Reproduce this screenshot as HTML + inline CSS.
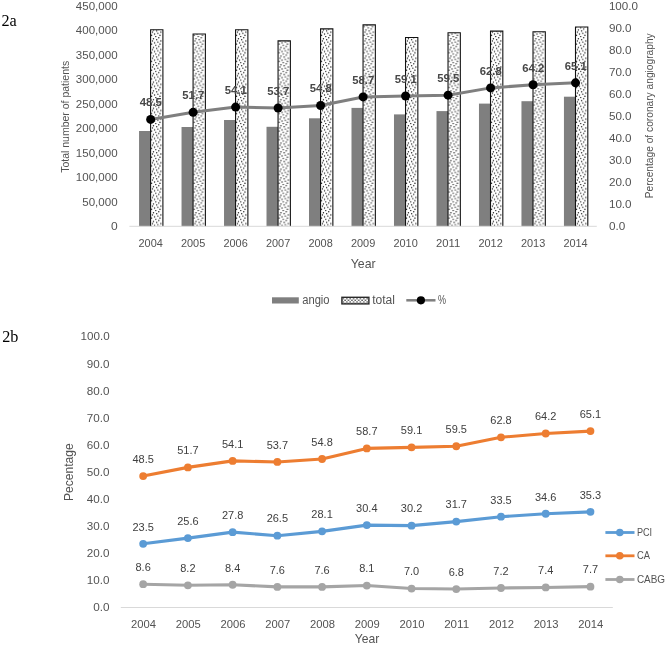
<!DOCTYPE html>
<html><head><meta charset="utf-8"><style>
html,body{margin:0;padding:0;background:#fff;}
body{width:666px;height:645px;overflow:hidden;font-family:"Liberation Sans", sans-serif;}
svg{display:block;will-change:transform;}
</style></head><body>
<svg width="666" height="645" viewBox="0 0 666 645">
<rect width="666" height="645" fill="#fff"/>
<text x="1.50" y="26.00" font-family='"Liberation Serif", serif' font-size="17" font-weight="normal" fill="#000" text-anchor="start" textLength="15.3" lengthAdjust="spacingAndGlyphs">2a</text>
<text x="2.20" y="342.30" font-family='"Liberation Serif", serif' font-size="17" font-weight="normal" fill="#000" text-anchor="start" textLength="16.2" lengthAdjust="spacingAndGlyphs">2b</text>
<text x="117.60" y="230.20" font-family='"Liberation Sans", sans-serif' font-size="11" font-weight="normal" fill="#535353" text-anchor="end" textLength="6.69" lengthAdjust="spacingAndGlyphs">0</text>
<text x="117.60" y="205.71" font-family='"Liberation Sans", sans-serif' font-size="11" font-weight="normal" fill="#535353" text-anchor="end" textLength="35.39" lengthAdjust="spacingAndGlyphs">50,000</text>
<text x="117.60" y="181.22" font-family='"Liberation Sans", sans-serif' font-size="11" font-weight="normal" fill="#535353" text-anchor="end" textLength="41.78" lengthAdjust="spacingAndGlyphs">100,000</text>
<text x="117.60" y="156.73" font-family='"Liberation Sans", sans-serif' font-size="11" font-weight="normal" fill="#535353" text-anchor="end" textLength="41.78" lengthAdjust="spacingAndGlyphs">150,000</text>
<text x="117.60" y="132.24" font-family='"Liberation Sans", sans-serif' font-size="11" font-weight="normal" fill="#535353" text-anchor="end" textLength="41.78" lengthAdjust="spacingAndGlyphs">200,000</text>
<text x="117.60" y="107.76" font-family='"Liberation Sans", sans-serif' font-size="11" font-weight="normal" fill="#535353" text-anchor="end" textLength="41.78" lengthAdjust="spacingAndGlyphs">250,000</text>
<text x="117.60" y="83.27" font-family='"Liberation Sans", sans-serif' font-size="11" font-weight="normal" fill="#535353" text-anchor="end" textLength="41.78" lengthAdjust="spacingAndGlyphs">300,000</text>
<text x="117.60" y="58.78" font-family='"Liberation Sans", sans-serif' font-size="11" font-weight="normal" fill="#535353" text-anchor="end" textLength="41.78" lengthAdjust="spacingAndGlyphs">350,000</text>
<text x="117.60" y="34.29" font-family='"Liberation Sans", sans-serif' font-size="11" font-weight="normal" fill="#535353" text-anchor="end" textLength="41.78" lengthAdjust="spacingAndGlyphs">400,000</text>
<text x="117.60" y="9.80" font-family='"Liberation Sans", sans-serif' font-size="11" font-weight="normal" fill="#535353" text-anchor="end" textLength="41.78" lengthAdjust="spacingAndGlyphs">450,000</text>
<text x="608.90" y="230.20" font-family='"Liberation Sans", sans-serif' font-size="11" font-weight="normal" fill="#535353" text-anchor="start" textLength="16.33" lengthAdjust="spacingAndGlyphs">0.0</text>
<text x="608.90" y="208.16" font-family='"Liberation Sans", sans-serif' font-size="11" font-weight="normal" fill="#535353" text-anchor="start" textLength="22.71" lengthAdjust="spacingAndGlyphs">10.0</text>
<text x="608.90" y="186.12" font-family='"Liberation Sans", sans-serif' font-size="11" font-weight="normal" fill="#535353" text-anchor="start" textLength="22.71" lengthAdjust="spacingAndGlyphs">20.0</text>
<text x="608.90" y="164.08" font-family='"Liberation Sans", sans-serif' font-size="11" font-weight="normal" fill="#535353" text-anchor="start" textLength="22.71" lengthAdjust="spacingAndGlyphs">30.0</text>
<text x="608.90" y="142.04" font-family='"Liberation Sans", sans-serif' font-size="11" font-weight="normal" fill="#535353" text-anchor="start" textLength="22.71" lengthAdjust="spacingAndGlyphs">40.0</text>
<text x="608.90" y="120.00" font-family='"Liberation Sans", sans-serif' font-size="11" font-weight="normal" fill="#535353" text-anchor="start" textLength="22.71" lengthAdjust="spacingAndGlyphs">50.0</text>
<text x="608.90" y="97.96" font-family='"Liberation Sans", sans-serif' font-size="11" font-weight="normal" fill="#535353" text-anchor="start" textLength="22.71" lengthAdjust="spacingAndGlyphs">60.0</text>
<text x="608.90" y="75.92" font-family='"Liberation Sans", sans-serif' font-size="11" font-weight="normal" fill="#535353" text-anchor="start" textLength="22.71" lengthAdjust="spacingAndGlyphs">70.0</text>
<text x="608.90" y="53.88" font-family='"Liberation Sans", sans-serif' font-size="11" font-weight="normal" fill="#535353" text-anchor="start" textLength="22.71" lengthAdjust="spacingAndGlyphs">80.0</text>
<text x="608.90" y="31.84" font-family='"Liberation Sans", sans-serif' font-size="11" font-weight="normal" fill="#535353" text-anchor="start" textLength="22.71" lengthAdjust="spacingAndGlyphs">90.0</text>
<text x="608.90" y="9.80" font-family='"Liberation Sans", sans-serif' font-size="11" font-weight="normal" fill="#535353" text-anchor="start" textLength="29.1" lengthAdjust="spacingAndGlyphs">100.0</text>
<defs><pattern id="dots" x="0" y="0" width="4.2" height="4.2" patternUnits="userSpaceOnUse"><rect width="4.2" height="4.2" fill="#fff"/><circle cx="1" cy="1" r="0.75" fill="#333"/><circle cx="3.1" cy="3.1" r="0.75" fill="#333"/></pattern><pattern id="ldots" x="342.5" y="297.8" width="3.4" height="3.2" patternUnits="userSpaceOnUse"><rect width="3.4" height="3.2" fill="#fff"/><circle cx="0.9" cy="0.9" r="0.75" fill="#333"/><circle cx="2.6" cy="2.5" r="0.75" fill="#333"/></pattern></defs>
<defs><pattern id="p0" x="151.05" y="1.26" width="12" height="8.7" patternUnits="userSpaceOnUse"><rect width="12" height="8.7" fill="#fff"/><circle cx="4.75" cy="0.60" r="0.7" fill="#1a1a1a"/><circle cx="7.75" cy="1.74" r="0.7" fill="#1a1a1a"/><circle cx="2.45" cy="2.74" r="0.7" fill="#1a1a1a"/><circle cx="5.65" cy="3.64" r="0.7" fill="#1a1a1a"/><circle cx="1.45" cy="4.74" r="0.7" fill="#1a1a1a"/><circle cx="9.85" cy="4.74" r="0.7" fill="#1a1a1a"/><circle cx="6.85" cy="5.94" r="0.7" fill="#1a1a1a"/><circle cx="3.55" cy="6.84" r="0.7" fill="#1a1a1a"/><circle cx="8.95" cy="8.04" r="0.7" fill="#1a1a1a"/><circle cx="0.55" cy="8.04" r="0.7" fill="#1a1a1a"/></pattern><pattern id="p1" x="193.53" y="1.26" width="12" height="8.7" patternUnits="userSpaceOnUse"><rect width="12" height="8.7" fill="#fff"/><circle cx="4.75" cy="0.60" r="0.7" fill="#1a1a1a"/><circle cx="7.75" cy="1.74" r="0.7" fill="#1a1a1a"/><circle cx="2.45" cy="2.74" r="0.7" fill="#1a1a1a"/><circle cx="5.65" cy="3.64" r="0.7" fill="#1a1a1a"/><circle cx="1.45" cy="4.74" r="0.7" fill="#1a1a1a"/><circle cx="9.85" cy="4.74" r="0.7" fill="#1a1a1a"/><circle cx="6.85" cy="5.94" r="0.7" fill="#1a1a1a"/><circle cx="3.55" cy="6.84" r="0.7" fill="#1a1a1a"/><circle cx="8.95" cy="8.04" r="0.7" fill="#1a1a1a"/><circle cx="0.55" cy="8.04" r="0.7" fill="#1a1a1a"/></pattern><pattern id="p2" x="236.03" y="1.26" width="12" height="8.7" patternUnits="userSpaceOnUse"><rect width="12" height="8.7" fill="#fff"/><circle cx="4.75" cy="0.60" r="0.7" fill="#1a1a1a"/><circle cx="7.75" cy="1.74" r="0.7" fill="#1a1a1a"/><circle cx="2.45" cy="2.74" r="0.7" fill="#1a1a1a"/><circle cx="5.65" cy="3.64" r="0.7" fill="#1a1a1a"/><circle cx="1.45" cy="4.74" r="0.7" fill="#1a1a1a"/><circle cx="9.85" cy="4.74" r="0.7" fill="#1a1a1a"/><circle cx="6.85" cy="5.94" r="0.7" fill="#1a1a1a"/><circle cx="3.55" cy="6.84" r="0.7" fill="#1a1a1a"/><circle cx="8.95" cy="8.04" r="0.7" fill="#1a1a1a"/><circle cx="0.55" cy="8.04" r="0.7" fill="#1a1a1a"/></pattern><pattern id="p3" x="278.51" y="1.26" width="12" height="8.7" patternUnits="userSpaceOnUse"><rect width="12" height="8.7" fill="#fff"/><circle cx="4.75" cy="0.60" r="0.7" fill="#1a1a1a"/><circle cx="7.75" cy="1.74" r="0.7" fill="#1a1a1a"/><circle cx="2.45" cy="2.74" r="0.7" fill="#1a1a1a"/><circle cx="5.65" cy="3.64" r="0.7" fill="#1a1a1a"/><circle cx="1.45" cy="4.74" r="0.7" fill="#1a1a1a"/><circle cx="9.85" cy="4.74" r="0.7" fill="#1a1a1a"/><circle cx="6.85" cy="5.94" r="0.7" fill="#1a1a1a"/><circle cx="3.55" cy="6.84" r="0.7" fill="#1a1a1a"/><circle cx="8.95" cy="8.04" r="0.7" fill="#1a1a1a"/><circle cx="0.55" cy="8.04" r="0.7" fill="#1a1a1a"/></pattern><pattern id="p4" x="321.00" y="1.26" width="12" height="8.7" patternUnits="userSpaceOnUse"><rect width="12" height="8.7" fill="#fff"/><circle cx="4.75" cy="0.60" r="0.7" fill="#1a1a1a"/><circle cx="7.75" cy="1.74" r="0.7" fill="#1a1a1a"/><circle cx="2.45" cy="2.74" r="0.7" fill="#1a1a1a"/><circle cx="5.65" cy="3.64" r="0.7" fill="#1a1a1a"/><circle cx="1.45" cy="4.74" r="0.7" fill="#1a1a1a"/><circle cx="9.85" cy="4.74" r="0.7" fill="#1a1a1a"/><circle cx="6.85" cy="5.94" r="0.7" fill="#1a1a1a"/><circle cx="3.55" cy="6.84" r="0.7" fill="#1a1a1a"/><circle cx="8.95" cy="8.04" r="0.7" fill="#1a1a1a"/><circle cx="0.55" cy="8.04" r="0.7" fill="#1a1a1a"/></pattern><pattern id="p5" x="363.50" y="1.26" width="12" height="8.7" patternUnits="userSpaceOnUse"><rect width="12" height="8.7" fill="#fff"/><circle cx="4.75" cy="0.60" r="0.7" fill="#1a1a1a"/><circle cx="7.75" cy="1.74" r="0.7" fill="#1a1a1a"/><circle cx="2.45" cy="2.74" r="0.7" fill="#1a1a1a"/><circle cx="5.65" cy="3.64" r="0.7" fill="#1a1a1a"/><circle cx="1.45" cy="4.74" r="0.7" fill="#1a1a1a"/><circle cx="9.85" cy="4.74" r="0.7" fill="#1a1a1a"/><circle cx="6.85" cy="5.94" r="0.7" fill="#1a1a1a"/><circle cx="3.55" cy="6.84" r="0.7" fill="#1a1a1a"/><circle cx="8.95" cy="8.04" r="0.7" fill="#1a1a1a"/><circle cx="0.55" cy="8.04" r="0.7" fill="#1a1a1a"/></pattern><pattern id="p6" x="405.99" y="1.26" width="12" height="8.7" patternUnits="userSpaceOnUse"><rect width="12" height="8.7" fill="#fff"/><circle cx="4.75" cy="0.60" r="0.7" fill="#1a1a1a"/><circle cx="7.75" cy="1.74" r="0.7" fill="#1a1a1a"/><circle cx="2.45" cy="2.74" r="0.7" fill="#1a1a1a"/><circle cx="5.65" cy="3.64" r="0.7" fill="#1a1a1a"/><circle cx="1.45" cy="4.74" r="0.7" fill="#1a1a1a"/><circle cx="9.85" cy="4.74" r="0.7" fill="#1a1a1a"/><circle cx="6.85" cy="5.94" r="0.7" fill="#1a1a1a"/><circle cx="3.55" cy="6.84" r="0.7" fill="#1a1a1a"/><circle cx="8.95" cy="8.04" r="0.7" fill="#1a1a1a"/><circle cx="0.55" cy="8.04" r="0.7" fill="#1a1a1a"/></pattern><pattern id="p7" x="448.48" y="1.26" width="12" height="8.7" patternUnits="userSpaceOnUse"><rect width="12" height="8.7" fill="#fff"/><circle cx="4.75" cy="0.60" r="0.7" fill="#1a1a1a"/><circle cx="7.75" cy="1.74" r="0.7" fill="#1a1a1a"/><circle cx="2.45" cy="2.74" r="0.7" fill="#1a1a1a"/><circle cx="5.65" cy="3.64" r="0.7" fill="#1a1a1a"/><circle cx="1.45" cy="4.74" r="0.7" fill="#1a1a1a"/><circle cx="9.85" cy="4.74" r="0.7" fill="#1a1a1a"/><circle cx="6.85" cy="5.94" r="0.7" fill="#1a1a1a"/><circle cx="3.55" cy="6.84" r="0.7" fill="#1a1a1a"/><circle cx="8.95" cy="8.04" r="0.7" fill="#1a1a1a"/><circle cx="0.55" cy="8.04" r="0.7" fill="#1a1a1a"/></pattern><pattern id="p8" x="490.97" y="1.26" width="12" height="8.7" patternUnits="userSpaceOnUse"><rect width="12" height="8.7" fill="#fff"/><circle cx="4.75" cy="0.60" r="0.7" fill="#1a1a1a"/><circle cx="7.75" cy="1.74" r="0.7" fill="#1a1a1a"/><circle cx="2.45" cy="2.74" r="0.7" fill="#1a1a1a"/><circle cx="5.65" cy="3.64" r="0.7" fill="#1a1a1a"/><circle cx="1.45" cy="4.74" r="0.7" fill="#1a1a1a"/><circle cx="9.85" cy="4.74" r="0.7" fill="#1a1a1a"/><circle cx="6.85" cy="5.94" r="0.7" fill="#1a1a1a"/><circle cx="3.55" cy="6.84" r="0.7" fill="#1a1a1a"/><circle cx="8.95" cy="8.04" r="0.7" fill="#1a1a1a"/><circle cx="0.55" cy="8.04" r="0.7" fill="#1a1a1a"/></pattern><pattern id="p9" x="533.46" y="1.26" width="12" height="8.7" patternUnits="userSpaceOnUse"><rect width="12" height="8.7" fill="#fff"/><circle cx="4.75" cy="0.60" r="0.7" fill="#1a1a1a"/><circle cx="7.75" cy="1.74" r="0.7" fill="#1a1a1a"/><circle cx="2.45" cy="2.74" r="0.7" fill="#1a1a1a"/><circle cx="5.65" cy="3.64" r="0.7" fill="#1a1a1a"/><circle cx="1.45" cy="4.74" r="0.7" fill="#1a1a1a"/><circle cx="9.85" cy="4.74" r="0.7" fill="#1a1a1a"/><circle cx="6.85" cy="5.94" r="0.7" fill="#1a1a1a"/><circle cx="3.55" cy="6.84" r="0.7" fill="#1a1a1a"/><circle cx="8.95" cy="8.04" r="0.7" fill="#1a1a1a"/><circle cx="0.55" cy="8.04" r="0.7" fill="#1a1a1a"/></pattern><pattern id="p10" x="575.95" y="1.26" width="12" height="8.7" patternUnits="userSpaceOnUse"><rect width="12" height="8.7" fill="#fff"/><circle cx="4.75" cy="0.60" r="0.7" fill="#1a1a1a"/><circle cx="7.75" cy="1.74" r="0.7" fill="#1a1a1a"/><circle cx="2.45" cy="2.74" r="0.7" fill="#1a1a1a"/><circle cx="5.65" cy="3.64" r="0.7" fill="#1a1a1a"/><circle cx="1.45" cy="4.74" r="0.7" fill="#1a1a1a"/><circle cx="9.85" cy="4.74" r="0.7" fill="#1a1a1a"/><circle cx="6.85" cy="5.94" r="0.7" fill="#1a1a1a"/><circle cx="3.55" cy="6.84" r="0.7" fill="#1a1a1a"/><circle cx="8.95" cy="8.04" r="0.7" fill="#1a1a1a"/><circle cx="0.55" cy="8.04" r="0.7" fill="#1a1a1a"/></pattern></defs>
<rect x="139.05" y="131.00" width="11.6" height="95.30" fill="#7f7f7f"/>
<rect x="150.59" y="29.70" width="12.30" height="196.60" fill="url(#p0)"/>
<path d="M150.59,226.30V29.70H162.90V226.30" fill="none" stroke="#111" stroke-width="1.1"/>
<rect x="181.53" y="127.00" width="11.6" height="99.30" fill="#7f7f7f"/>
<rect x="193.08" y="34.00" width="12.30" height="192.30" fill="url(#p1)"/>
<path d="M193.08,226.30V34.00H205.38V226.30" fill="none" stroke="#111" stroke-width="1.1"/>
<rect x="224.03" y="120.00" width="11.6" height="106.30" fill="#7f7f7f"/>
<rect x="235.57" y="29.70" width="12.30" height="196.60" fill="url(#p2)"/>
<path d="M235.57,226.30V29.70H247.88V226.30" fill="none" stroke="#111" stroke-width="1.1"/>
<rect x="266.51" y="126.80" width="11.6" height="99.50" fill="#7f7f7f"/>
<rect x="278.06" y="40.90" width="12.30" height="185.40" fill="url(#p3)"/>
<path d="M278.06,226.30V40.90H290.37V226.30" fill="none" stroke="#111" stroke-width="1.1"/>
<rect x="309.00" y="118.30" width="11.6" height="108.00" fill="#7f7f7f"/>
<rect x="320.56" y="28.90" width="12.30" height="197.40" fill="url(#p4)"/>
<path d="M320.56,226.30V28.90H332.86V226.30" fill="none" stroke="#111" stroke-width="1.1"/>
<rect x="351.50" y="107.90" width="11.6" height="118.40" fill="#7f7f7f"/>
<rect x="363.05" y="24.90" width="12.30" height="201.40" fill="url(#p5)"/>
<path d="M363.05,226.30V24.90H375.35V226.30" fill="none" stroke="#111" stroke-width="1.1"/>
<rect x="393.99" y="114.40" width="11.6" height="111.90" fill="#7f7f7f"/>
<rect x="405.54" y="37.50" width="12.30" height="188.80" fill="url(#p6)"/>
<path d="M405.54,226.30V37.50H417.84V226.30" fill="none" stroke="#111" stroke-width="1.1"/>
<rect x="436.48" y="111.10" width="11.6" height="115.20" fill="#7f7f7f"/>
<rect x="448.03" y="32.80" width="12.30" height="193.50" fill="url(#p7)"/>
<path d="M448.03,226.30V32.80H460.33V226.30" fill="none" stroke="#111" stroke-width="1.1"/>
<rect x="478.97" y="103.60" width="11.6" height="122.70" fill="#7f7f7f"/>
<rect x="490.52" y="31.10" width="12.30" height="195.20" fill="url(#p8)"/>
<path d="M490.52,226.30V31.10H502.82V226.30" fill="none" stroke="#111" stroke-width="1.1"/>
<rect x="521.46" y="101.20" width="11.6" height="125.10" fill="#7f7f7f"/>
<rect x="533.01" y="31.80" width="12.30" height="194.50" fill="url(#p9)"/>
<path d="M533.01,226.30V31.80H545.31V226.30" fill="none" stroke="#111" stroke-width="1.1"/>
<rect x="563.95" y="96.70" width="11.6" height="129.60" fill="#7f7f7f"/>
<rect x="575.50" y="27.00" width="12.30" height="199.30" fill="url(#p10)"/>
<path d="M575.50,226.30V27.00H587.80V226.30" fill="none" stroke="#111" stroke-width="1.1"/>
<line x1="129.4" y1="226.3" x2="596.8" y2="226.3" stroke="#d9d9d9" stroke-width="1"/>
<polyline points="150.65,119.41 193.13,112.35 235.62,107.06 278.12,107.95 320.61,105.52 363.10,96.93 405.59,96.04 448.08,95.16 490.57,87.89 533.06,84.80 575.55,82.82" fill="none" stroke="#7f7f7f" stroke-width="3" stroke-linejoin="round"/>
<circle cx="150.65" cy="119.41" r="4.5" fill="#000"/>
<circle cx="193.13" cy="112.35" r="4.5" fill="#000"/>
<circle cx="235.62" cy="107.06" r="4.5" fill="#000"/>
<circle cx="278.12" cy="107.95" r="4.5" fill="#000"/>
<circle cx="320.61" cy="105.52" r="4.5" fill="#000"/>
<circle cx="363.10" cy="96.93" r="4.5" fill="#000"/>
<circle cx="405.59" cy="96.04" r="4.5" fill="#000"/>
<circle cx="448.08" cy="95.16" r="4.5" fill="#000"/>
<circle cx="490.57" cy="87.89" r="4.5" fill="#000"/>
<circle cx="533.06" cy="84.80" r="4.5" fill="#000"/>
<circle cx="575.55" cy="82.82" r="4.5" fill="#000"/>
<text x="150.84" y="106.31" font-family='"Liberation Sans", sans-serif' font-size="11.5" font-weight="bold" fill="#474747" text-anchor="middle" textLength="22" lengthAdjust="spacingAndGlyphs">48.5</text>
<text x="193.33" y="99.25" font-family='"Liberation Sans", sans-serif' font-size="11.5" font-weight="bold" fill="#474747" text-anchor="middle" textLength="22" lengthAdjust="spacingAndGlyphs">51.7</text>
<text x="235.82" y="93.96" font-family='"Liberation Sans", sans-serif' font-size="11.5" font-weight="bold" fill="#474747" text-anchor="middle" textLength="22" lengthAdjust="spacingAndGlyphs">54.1</text>
<text x="278.31" y="94.85" font-family='"Liberation Sans", sans-serif' font-size="11.5" font-weight="bold" fill="#474747" text-anchor="middle" textLength="22" lengthAdjust="spacingAndGlyphs">53.7</text>
<text x="320.81" y="92.42" font-family='"Liberation Sans", sans-serif' font-size="11.5" font-weight="bold" fill="#474747" text-anchor="middle" textLength="22" lengthAdjust="spacingAndGlyphs">54.8</text>
<text x="363.30" y="83.83" font-family='"Liberation Sans", sans-serif' font-size="11.5" font-weight="bold" fill="#474747" text-anchor="middle" textLength="22" lengthAdjust="spacingAndGlyphs">58.7</text>
<text x="405.79" y="82.94" font-family='"Liberation Sans", sans-serif' font-size="11.5" font-weight="bold" fill="#474747" text-anchor="middle" textLength="22" lengthAdjust="spacingAndGlyphs">59.1</text>
<text x="448.28" y="82.06" font-family='"Liberation Sans", sans-serif' font-size="11.5" font-weight="bold" fill="#474747" text-anchor="middle" textLength="22" lengthAdjust="spacingAndGlyphs">59.5</text>
<text x="490.77" y="74.79" font-family='"Liberation Sans", sans-serif' font-size="11.5" font-weight="bold" fill="#474747" text-anchor="middle" textLength="22" lengthAdjust="spacingAndGlyphs">62.8</text>
<text x="533.26" y="71.70" font-family='"Liberation Sans", sans-serif' font-size="11.5" font-weight="bold" fill="#474747" text-anchor="middle" textLength="22" lengthAdjust="spacingAndGlyphs">64.2</text>
<text x="575.75" y="69.72" font-family='"Liberation Sans", sans-serif' font-size="11.5" font-weight="bold" fill="#474747" text-anchor="middle" textLength="22" lengthAdjust="spacingAndGlyphs">65.1</text>
<text x="150.65" y="246.60" font-family='"Liberation Sans", sans-serif' font-size="11.6" font-weight="normal" fill="#535353" text-anchor="middle" textLength="24.3" lengthAdjust="spacingAndGlyphs">2004</text>
<text x="193.13" y="246.60" font-family='"Liberation Sans", sans-serif' font-size="11.6" font-weight="normal" fill="#535353" text-anchor="middle" textLength="24.3" lengthAdjust="spacingAndGlyphs">2005</text>
<text x="235.62" y="246.60" font-family='"Liberation Sans", sans-serif' font-size="11.6" font-weight="normal" fill="#535353" text-anchor="middle" textLength="24.3" lengthAdjust="spacingAndGlyphs">2006</text>
<text x="278.12" y="246.60" font-family='"Liberation Sans", sans-serif' font-size="11.6" font-weight="normal" fill="#535353" text-anchor="middle" textLength="24.3" lengthAdjust="spacingAndGlyphs">2007</text>
<text x="320.61" y="246.60" font-family='"Liberation Sans", sans-serif' font-size="11.6" font-weight="normal" fill="#535353" text-anchor="middle" textLength="24.3" lengthAdjust="spacingAndGlyphs">2008</text>
<text x="363.10" y="246.60" font-family='"Liberation Sans", sans-serif' font-size="11.6" font-weight="normal" fill="#535353" text-anchor="middle" textLength="24.3" lengthAdjust="spacingAndGlyphs">2009</text>
<text x="405.59" y="246.60" font-family='"Liberation Sans", sans-serif' font-size="11.6" font-weight="normal" fill="#535353" text-anchor="middle" textLength="24.3" lengthAdjust="spacingAndGlyphs">2010</text>
<text x="448.08" y="246.60" font-family='"Liberation Sans", sans-serif' font-size="11.6" font-weight="normal" fill="#535353" text-anchor="middle" textLength="24.3" lengthAdjust="spacingAndGlyphs">2011</text>
<text x="490.57" y="246.60" font-family='"Liberation Sans", sans-serif' font-size="11.6" font-weight="normal" fill="#535353" text-anchor="middle" textLength="24.3" lengthAdjust="spacingAndGlyphs">2012</text>
<text x="533.06" y="246.60" font-family='"Liberation Sans", sans-serif' font-size="11.6" font-weight="normal" fill="#535353" text-anchor="middle" textLength="24.3" lengthAdjust="spacingAndGlyphs">2013</text>
<text x="575.55" y="246.60" font-family='"Liberation Sans", sans-serif' font-size="11.6" font-weight="normal" fill="#535353" text-anchor="middle" textLength="24.3" lengthAdjust="spacingAndGlyphs">2014</text>
<text x="363.20" y="267.50" font-family='"Liberation Sans", sans-serif' font-size="12.2" font-weight="normal" fill="#535353" text-anchor="middle" textLength="24.9" lengthAdjust="spacingAndGlyphs">Year</text>
<text transform="translate(69.2,116.8) rotate(-90)" x="0" y="0" font-family='"Liberation Sans", sans-serif' font-size="10" fill="#535353" text-anchor="middle" textLength="112" lengthAdjust="spacingAndGlyphs">Total number of patients</text>
<text transform="translate(652.7,115.8) rotate(-90)" x="0" y="0" font-family='"Liberation Sans", sans-serif' font-size="10" fill="#535353" text-anchor="middle" textLength="165" lengthAdjust="spacingAndGlyphs">Percentage of coronary angiography</text>
<rect x="272" y="297.3" width="26.8" height="6.2" fill="#7f7f7f"/>
<text x="302.20" y="303.80" font-family='"Liberation Sans", sans-serif' font-size="12" font-weight="normal" fill="#535353" text-anchor="start" textLength="27.4" lengthAdjust="spacingAndGlyphs">angio</text>
<rect x="341.9" y="297.3" width="27.0" height="6.6" fill="url(#ldots)" stroke="#2a2a2a" stroke-width="1.4"/>
<text x="372.20" y="303.80" font-family='"Liberation Sans", sans-serif' font-size="12" font-weight="normal" fill="#535353" text-anchor="start" textLength="22.8" lengthAdjust="spacingAndGlyphs">total</text>
<line x1="406.3" y1="300.3" x2="435.5" y2="300.3" stroke="#7f7f7f" stroke-width="2.5"/>
<circle cx="420.9" cy="300.3" r="4.1" fill="#000"/>
<text x="438.00" y="303.90" font-family='"Liberation Sans", sans-serif' font-size="12" font-weight="normal" fill="#535353" text-anchor="start" textLength="8" lengthAdjust="spacingAndGlyphs">%</text>
<text x="109.60" y="611.40" font-family='"Liberation Sans", sans-serif' font-size="11" font-weight="normal" fill="#535353" text-anchor="end" textLength="16.33" lengthAdjust="spacingAndGlyphs">0.0</text>
<text x="109.60" y="584.30" font-family='"Liberation Sans", sans-serif' font-size="11" font-weight="normal" fill="#535353" text-anchor="end" textLength="22.71" lengthAdjust="spacingAndGlyphs">10.0</text>
<text x="109.60" y="557.20" font-family='"Liberation Sans", sans-serif' font-size="11" font-weight="normal" fill="#535353" text-anchor="end" textLength="22.71" lengthAdjust="spacingAndGlyphs">20.0</text>
<text x="109.60" y="530.10" font-family='"Liberation Sans", sans-serif' font-size="11" font-weight="normal" fill="#535353" text-anchor="end" textLength="22.71" lengthAdjust="spacingAndGlyphs">30.0</text>
<text x="109.60" y="503.00" font-family='"Liberation Sans", sans-serif' font-size="11" font-weight="normal" fill="#535353" text-anchor="end" textLength="22.71" lengthAdjust="spacingAndGlyphs">40.0</text>
<text x="109.60" y="475.90" font-family='"Liberation Sans", sans-serif' font-size="11" font-weight="normal" fill="#535353" text-anchor="end" textLength="22.71" lengthAdjust="spacingAndGlyphs">50.0</text>
<text x="109.60" y="448.80" font-family='"Liberation Sans", sans-serif' font-size="11" font-weight="normal" fill="#535353" text-anchor="end" textLength="22.71" lengthAdjust="spacingAndGlyphs">60.0</text>
<text x="109.60" y="421.70" font-family='"Liberation Sans", sans-serif' font-size="11" font-weight="normal" fill="#535353" text-anchor="end" textLength="22.71" lengthAdjust="spacingAndGlyphs">70.0</text>
<text x="109.60" y="394.60" font-family='"Liberation Sans", sans-serif' font-size="11" font-weight="normal" fill="#535353" text-anchor="end" textLength="22.71" lengthAdjust="spacingAndGlyphs">80.0</text>
<text x="109.60" y="367.50" font-family='"Liberation Sans", sans-serif' font-size="11" font-weight="normal" fill="#535353" text-anchor="end" textLength="22.71" lengthAdjust="spacingAndGlyphs">90.0</text>
<text x="109.60" y="340.40" font-family='"Liberation Sans", sans-serif' font-size="11" font-weight="normal" fill="#535353" text-anchor="end" textLength="29.1" lengthAdjust="spacingAndGlyphs">100.0</text>
<line x1="120.8" y1="607.5" x2="612.8" y2="607.5" stroke="#d9d9d9" stroke-width="1"/>
<polyline points="143.16,543.82 187.89,538.12 232.62,532.16 277.35,535.68 322.08,531.35 366.81,525.12 411.55,525.66 456.27,521.59 501.00,516.72 545.73,513.73 590.46,511.84" fill="none" stroke="#5b9bd5" stroke-width="3.1" stroke-linejoin="round" stroke-linecap="round"/>
<circle cx="143.16" cy="543.82" r="3.9" fill="#5b9bd5"/>
<circle cx="187.89" cy="538.12" r="3.9" fill="#5b9bd5"/>
<circle cx="232.62" cy="532.16" r="3.9" fill="#5b9bd5"/>
<circle cx="277.35" cy="535.68" r="3.9" fill="#5b9bd5"/>
<circle cx="322.08" cy="531.35" r="3.9" fill="#5b9bd5"/>
<circle cx="366.81" cy="525.12" r="3.9" fill="#5b9bd5"/>
<circle cx="411.55" cy="525.66" r="3.9" fill="#5b9bd5"/>
<circle cx="456.27" cy="521.59" r="3.9" fill="#5b9bd5"/>
<circle cx="501.00" cy="516.72" r="3.9" fill="#5b9bd5"/>
<circle cx="545.73" cy="513.73" r="3.9" fill="#5b9bd5"/>
<circle cx="590.46" cy="511.84" r="3.9" fill="#5b9bd5"/>
<polyline points="143.16,476.06 187.89,467.39 232.62,460.89 277.35,461.97 322.08,458.99 366.81,448.42 411.55,447.34 456.27,446.25 501.00,437.31 545.73,433.52 590.46,431.08" fill="none" stroke="#ed7d31" stroke-width="3.1" stroke-linejoin="round" stroke-linecap="round"/>
<circle cx="143.16" cy="476.06" r="3.9" fill="#ed7d31"/>
<circle cx="187.89" cy="467.39" r="3.9" fill="#ed7d31"/>
<circle cx="232.62" cy="460.89" r="3.9" fill="#ed7d31"/>
<circle cx="277.35" cy="461.97" r="3.9" fill="#ed7d31"/>
<circle cx="322.08" cy="458.99" r="3.9" fill="#ed7d31"/>
<circle cx="366.81" cy="448.42" r="3.9" fill="#ed7d31"/>
<circle cx="411.55" cy="447.34" r="3.9" fill="#ed7d31"/>
<circle cx="456.27" cy="446.25" r="3.9" fill="#ed7d31"/>
<circle cx="501.00" cy="437.31" r="3.9" fill="#ed7d31"/>
<circle cx="545.73" cy="433.52" r="3.9" fill="#ed7d31"/>
<circle cx="590.46" cy="431.08" r="3.9" fill="#ed7d31"/>
<polyline points="143.16,584.19 187.89,585.28 232.62,584.74 277.35,586.90 322.08,586.90 366.81,585.55 411.55,588.53 456.27,589.07 501.00,587.99 545.73,587.45 590.46,586.63" fill="none" stroke="#a5a5a5" stroke-width="3.1" stroke-linejoin="round" stroke-linecap="round"/>
<circle cx="143.16" cy="584.19" r="3.9" fill="#a5a5a5"/>
<circle cx="187.89" cy="585.28" r="3.9" fill="#a5a5a5"/>
<circle cx="232.62" cy="584.74" r="3.9" fill="#a5a5a5"/>
<circle cx="277.35" cy="586.90" r="3.9" fill="#a5a5a5"/>
<circle cx="322.08" cy="586.90" r="3.9" fill="#a5a5a5"/>
<circle cx="366.81" cy="585.55" r="3.9" fill="#a5a5a5"/>
<circle cx="411.55" cy="588.53" r="3.9" fill="#a5a5a5"/>
<circle cx="456.27" cy="589.07" r="3.9" fill="#a5a5a5"/>
<circle cx="501.00" cy="587.99" r="3.9" fill="#a5a5a5"/>
<circle cx="545.73" cy="587.45" r="3.9" fill="#a5a5a5"/>
<circle cx="590.46" cy="586.63" r="3.9" fill="#a5a5a5"/>
<text x="143.16" y="530.62" font-family='"Liberation Sans", sans-serif' font-size="11.8" font-weight="normal" fill="#404040" text-anchor="middle" textLength="21.43" lengthAdjust="spacingAndGlyphs">23.5</text>
<text x="187.89" y="524.92" font-family='"Liberation Sans", sans-serif' font-size="11.8" font-weight="normal" fill="#404040" text-anchor="middle" textLength="21.43" lengthAdjust="spacingAndGlyphs">25.6</text>
<text x="232.62" y="518.96" font-family='"Liberation Sans", sans-serif' font-size="11.8" font-weight="normal" fill="#404040" text-anchor="middle" textLength="21.43" lengthAdjust="spacingAndGlyphs">27.8</text>
<text x="277.35" y="522.48" font-family='"Liberation Sans", sans-serif' font-size="11.8" font-weight="normal" fill="#404040" text-anchor="middle" textLength="21.43" lengthAdjust="spacingAndGlyphs">26.5</text>
<text x="322.08" y="518.15" font-family='"Liberation Sans", sans-serif' font-size="11.8" font-weight="normal" fill="#404040" text-anchor="middle" textLength="21.43" lengthAdjust="spacingAndGlyphs">28.1</text>
<text x="366.81" y="511.92" font-family='"Liberation Sans", sans-serif' font-size="11.8" font-weight="normal" fill="#404040" text-anchor="middle" textLength="21.43" lengthAdjust="spacingAndGlyphs">30.4</text>
<text x="411.55" y="512.46" font-family='"Liberation Sans", sans-serif' font-size="11.8" font-weight="normal" fill="#404040" text-anchor="middle" textLength="21.43" lengthAdjust="spacingAndGlyphs">30.2</text>
<text x="456.27" y="508.39" font-family='"Liberation Sans", sans-serif' font-size="11.8" font-weight="normal" fill="#404040" text-anchor="middle" textLength="21.43" lengthAdjust="spacingAndGlyphs">31.7</text>
<text x="501.00" y="503.52" font-family='"Liberation Sans", sans-serif' font-size="11.8" font-weight="normal" fill="#404040" text-anchor="middle" textLength="21.43" lengthAdjust="spacingAndGlyphs">33.5</text>
<text x="545.73" y="500.53" font-family='"Liberation Sans", sans-serif' font-size="11.8" font-weight="normal" fill="#404040" text-anchor="middle" textLength="21.43" lengthAdjust="spacingAndGlyphs">34.6</text>
<text x="590.46" y="498.64" font-family='"Liberation Sans", sans-serif' font-size="11.8" font-weight="normal" fill="#404040" text-anchor="middle" textLength="21.43" lengthAdjust="spacingAndGlyphs">35.3</text>
<text x="143.16" y="462.87" font-family='"Liberation Sans", sans-serif' font-size="11.8" font-weight="normal" fill="#404040" text-anchor="middle" textLength="21.43" lengthAdjust="spacingAndGlyphs">48.5</text>
<text x="187.89" y="454.19" font-family='"Liberation Sans", sans-serif' font-size="11.8" font-weight="normal" fill="#404040" text-anchor="middle" textLength="21.43" lengthAdjust="spacingAndGlyphs">51.7</text>
<text x="232.62" y="447.69" font-family='"Liberation Sans", sans-serif' font-size="11.8" font-weight="normal" fill="#404040" text-anchor="middle" textLength="21.43" lengthAdjust="spacingAndGlyphs">54.1</text>
<text x="277.35" y="448.77" font-family='"Liberation Sans", sans-serif' font-size="11.8" font-weight="normal" fill="#404040" text-anchor="middle" textLength="21.43" lengthAdjust="spacingAndGlyphs">53.7</text>
<text x="322.08" y="445.79" font-family='"Liberation Sans", sans-serif' font-size="11.8" font-weight="normal" fill="#404040" text-anchor="middle" textLength="21.43" lengthAdjust="spacingAndGlyphs">54.8</text>
<text x="366.81" y="435.22" font-family='"Liberation Sans", sans-serif' font-size="11.8" font-weight="normal" fill="#404040" text-anchor="middle" textLength="21.43" lengthAdjust="spacingAndGlyphs">58.7</text>
<text x="411.55" y="434.14" font-family='"Liberation Sans", sans-serif' font-size="11.8" font-weight="normal" fill="#404040" text-anchor="middle" textLength="21.43" lengthAdjust="spacingAndGlyphs">59.1</text>
<text x="456.27" y="433.06" font-family='"Liberation Sans", sans-serif' font-size="11.8" font-weight="normal" fill="#404040" text-anchor="middle" textLength="21.43" lengthAdjust="spacingAndGlyphs">59.5</text>
<text x="501.00" y="424.11" font-family='"Liberation Sans", sans-serif' font-size="11.8" font-weight="normal" fill="#404040" text-anchor="middle" textLength="21.43" lengthAdjust="spacingAndGlyphs">62.8</text>
<text x="545.73" y="420.32" font-family='"Liberation Sans", sans-serif' font-size="11.8" font-weight="normal" fill="#404040" text-anchor="middle" textLength="21.43" lengthAdjust="spacingAndGlyphs">64.2</text>
<text x="590.46" y="417.88" font-family='"Liberation Sans", sans-serif' font-size="11.8" font-weight="normal" fill="#404040" text-anchor="middle" textLength="21.43" lengthAdjust="spacingAndGlyphs">65.1</text>
<text x="143.16" y="570.99" font-family='"Liberation Sans", sans-serif' font-size="11.8" font-weight="normal" fill="#404040" text-anchor="middle" textLength="15.29" lengthAdjust="spacingAndGlyphs">8.6</text>
<text x="187.89" y="572.08" font-family='"Liberation Sans", sans-serif' font-size="11.8" font-weight="normal" fill="#404040" text-anchor="middle" textLength="15.29" lengthAdjust="spacingAndGlyphs">8.2</text>
<text x="232.62" y="571.54" font-family='"Liberation Sans", sans-serif' font-size="11.8" font-weight="normal" fill="#404040" text-anchor="middle" textLength="15.29" lengthAdjust="spacingAndGlyphs">8.4</text>
<text x="277.35" y="573.70" font-family='"Liberation Sans", sans-serif' font-size="11.8" font-weight="normal" fill="#404040" text-anchor="middle" textLength="15.29" lengthAdjust="spacingAndGlyphs">7.6</text>
<text x="322.08" y="573.70" font-family='"Liberation Sans", sans-serif' font-size="11.8" font-weight="normal" fill="#404040" text-anchor="middle" textLength="15.29" lengthAdjust="spacingAndGlyphs">7.6</text>
<text x="366.81" y="572.35" font-family='"Liberation Sans", sans-serif' font-size="11.8" font-weight="normal" fill="#404040" text-anchor="middle" textLength="15.29" lengthAdjust="spacingAndGlyphs">8.1</text>
<text x="411.55" y="575.33" font-family='"Liberation Sans", sans-serif' font-size="11.8" font-weight="normal" fill="#404040" text-anchor="middle" textLength="15.29" lengthAdjust="spacingAndGlyphs">7.0</text>
<text x="456.27" y="575.87" font-family='"Liberation Sans", sans-serif' font-size="11.8" font-weight="normal" fill="#404040" text-anchor="middle" textLength="15.29" lengthAdjust="spacingAndGlyphs">6.8</text>
<text x="501.00" y="574.79" font-family='"Liberation Sans", sans-serif' font-size="11.8" font-weight="normal" fill="#404040" text-anchor="middle" textLength="15.29" lengthAdjust="spacingAndGlyphs">7.2</text>
<text x="545.73" y="574.25" font-family='"Liberation Sans", sans-serif' font-size="11.8" font-weight="normal" fill="#404040" text-anchor="middle" textLength="15.29" lengthAdjust="spacingAndGlyphs">7.4</text>
<text x="590.46" y="573.43" font-family='"Liberation Sans", sans-serif' font-size="11.8" font-weight="normal" fill="#404040" text-anchor="middle" textLength="15.29" lengthAdjust="spacingAndGlyphs">7.7</text>
<text x="143.56" y="627.80" font-family='"Liberation Sans", sans-serif' font-size="11.8" font-weight="normal" fill="#535353" text-anchor="middle" textLength="25" lengthAdjust="spacingAndGlyphs">2004</text>
<text x="188.29" y="627.80" font-family='"Liberation Sans", sans-serif' font-size="11.8" font-weight="normal" fill="#535353" text-anchor="middle" textLength="25" lengthAdjust="spacingAndGlyphs">2005</text>
<text x="233.03" y="627.80" font-family='"Liberation Sans", sans-serif' font-size="11.8" font-weight="normal" fill="#535353" text-anchor="middle" textLength="25" lengthAdjust="spacingAndGlyphs">2006</text>
<text x="277.75" y="627.80" font-family='"Liberation Sans", sans-serif' font-size="11.8" font-weight="normal" fill="#535353" text-anchor="middle" textLength="25" lengthAdjust="spacingAndGlyphs">2007</text>
<text x="322.48" y="627.80" font-family='"Liberation Sans", sans-serif' font-size="11.8" font-weight="normal" fill="#535353" text-anchor="middle" textLength="25" lengthAdjust="spacingAndGlyphs">2008</text>
<text x="367.21" y="627.80" font-family='"Liberation Sans", sans-serif' font-size="11.8" font-weight="normal" fill="#535353" text-anchor="middle" textLength="25" lengthAdjust="spacingAndGlyphs">2009</text>
<text x="411.94" y="627.80" font-family='"Liberation Sans", sans-serif' font-size="11.8" font-weight="normal" fill="#535353" text-anchor="middle" textLength="25" lengthAdjust="spacingAndGlyphs">2010</text>
<text x="456.67" y="627.80" font-family='"Liberation Sans", sans-serif' font-size="11.8" font-weight="normal" fill="#535353" text-anchor="middle" textLength="25" lengthAdjust="spacingAndGlyphs">2011</text>
<text x="501.40" y="627.80" font-family='"Liberation Sans", sans-serif' font-size="11.8" font-weight="normal" fill="#535353" text-anchor="middle" textLength="25" lengthAdjust="spacingAndGlyphs">2012</text>
<text x="546.13" y="627.80" font-family='"Liberation Sans", sans-serif' font-size="11.8" font-weight="normal" fill="#535353" text-anchor="middle" textLength="25" lengthAdjust="spacingAndGlyphs">2013</text>
<text x="590.86" y="627.80" font-family='"Liberation Sans", sans-serif' font-size="11.8" font-weight="normal" fill="#535353" text-anchor="middle" textLength="25" lengthAdjust="spacingAndGlyphs">2014</text>
<text x="367.00" y="642.50" font-family='"Liberation Sans", sans-serif' font-size="12.2" font-weight="normal" fill="#535353" text-anchor="middle" textLength="24.5" lengthAdjust="spacingAndGlyphs">Year</text>
<text transform="translate(72.7,472.2) rotate(-90)" x="0" y="0" font-family='"Liberation Sans", sans-serif' font-size="12" fill="#535353" text-anchor="middle" textLength="57.7" lengthAdjust="spacingAndGlyphs">Pecentage</text>
<line x1="605.4" y1="532.5" x2="634.5" y2="532.5" stroke="#5b9bd5" stroke-width="2.8"/>
<circle cx="619.8" cy="532.5" r="3.8" fill="#5b9bd5"/>
<text x="636.90" y="536.10" font-family='"Liberation Sans", sans-serif' font-size="11.5" font-weight="normal" fill="#535353" text-anchor="start" textLength="15.2" lengthAdjust="spacingAndGlyphs">PCI</text>
<line x1="605.4" y1="555.8" x2="634.5" y2="555.8" stroke="#ed7d31" stroke-width="2.8"/>
<circle cx="619.8" cy="555.8" r="3.8" fill="#ed7d31"/>
<text x="636.90" y="559.40" font-family='"Liberation Sans", sans-serif' font-size="11.5" font-weight="normal" fill="#535353" text-anchor="start" textLength="13.0" lengthAdjust="spacingAndGlyphs">CA</text>
<line x1="605.4" y1="579.5" x2="634.5" y2="579.5" stroke="#a5a5a5" stroke-width="2.8"/>
<circle cx="619.8" cy="579.5" r="3.8" fill="#a5a5a5"/>
<text x="636.90" y="583.10" font-family='"Liberation Sans", sans-serif' font-size="11.5" font-weight="normal" fill="#535353" text-anchor="start" textLength="28.2" lengthAdjust="spacingAndGlyphs">CABG</text>
</svg>
</body></html>
